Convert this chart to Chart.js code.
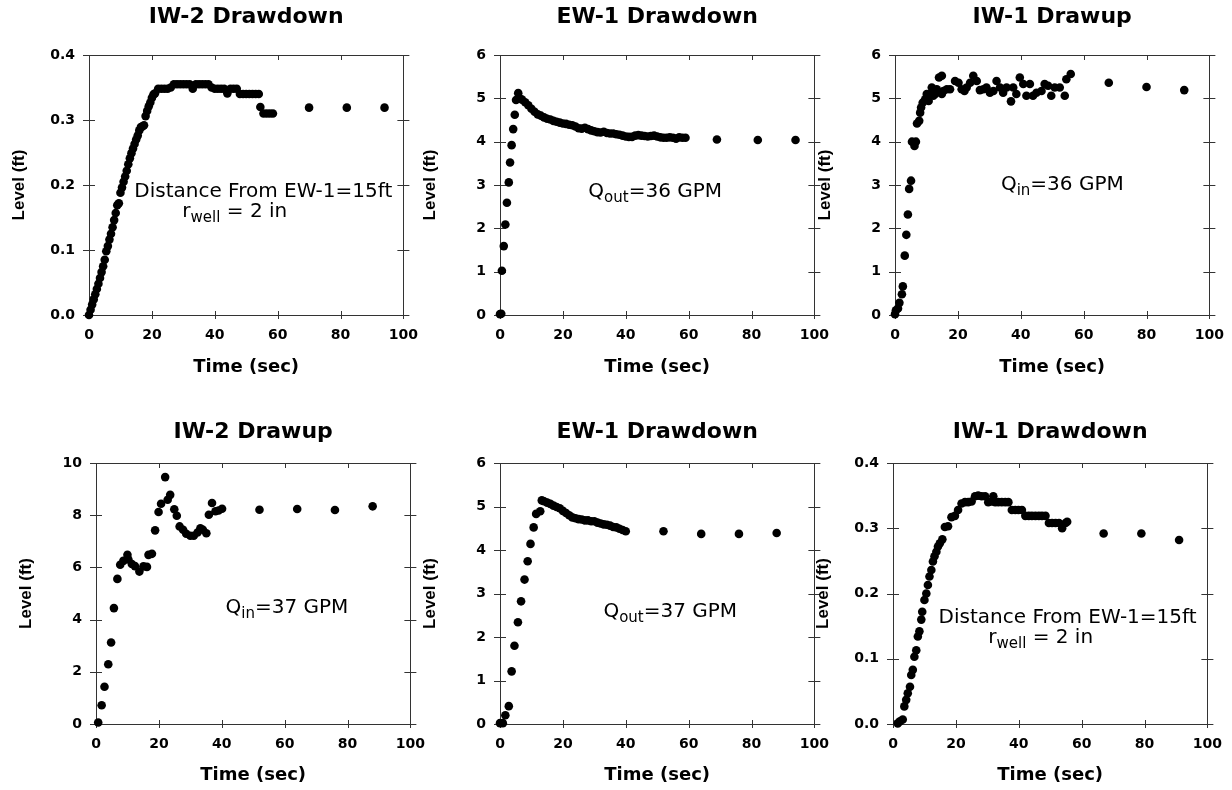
<!DOCTYPE html>
<html>
<head>
<meta charset="utf-8">
<script src="https://cdn.jsdelivr.net/npm/chart.js@4.4.1/dist/chart.umd.min.js"></script>
<style>
body { margin: 0; background: #fff; }
#lienzo { position: relative; width: 1232px; height: 790px; overflow: hidden; }
#lienzo canvas { position: absolute; }
</style>
</head>
<body>
<div id="lienzo"></div>
<script>
//Datos IW-2 Drawdown
let tiempo1 = [0,0.5,1,1.5,2,2.5,3,3.5,4,4.5,5,5.5,6,6.5,7,7.5,8,8.5,9,9.5,10,10.5,11,11.5,12,12.5,13,13.5,14,14.5,15,15.5,16,16.5,17,17.5,18,18.5,19,19.5,20,20.5,21,
  22,23,24,25,26,27,28,29,30,31,32,33,34,35,36,37,38,39,40,41,42,43,44,45,46,47,48,49,50,51,52,53,54,54.5,55.5,56.5,57.5,58.5,70,82,94];
let nivel1 = [0.000,0.008,0.016,0.024,0.032,0.040,0.048,0.057,0.066,0.075,0.085,0.098,0.106,0.116,0.125,0.135,0.146,0.157,0.169,0.172,0.188,0.196,0.205,0.213,0.222,0.232,0.241,0.249,0.256,0.263,0.270,0.276,0.284,0.289,0.290,0.292,0.306,0.314,0.321,0.327,0.334,0.339,0.341,
  0.348,0.348,0.348,0.348,0.350,0.355,0.355,0.355,0.355,0.355,0.355,0.348,0.355,0.355,0.355,0.355,0.355,0.350,0.348,0.348,0.348,0.348,0.341,0.348,0.348,0.348,0.340,0.340,0.340,0.340,0.340,0.340,0.340,0.320,0.310,0.310,0.310,0.310,0.319,0.319,0.319];

//Datos EW-1 Drawdown (36 GPM)
let tiempo2 = [0,0.4,0.6,1.2,1.7,2.2,2.8,3.2,3.7,4.2,4.7,5.1,5.8,6.2,
  7,8,9,10,11,12,13,14,15,16,17,18,19,20,21,22,23,24,25,26,27,28,29,30,31,32,33,34,35,36,37,38,39,40,41,42,43,44,45,46,47,48,49,50,51,52,53,54,55,56,57,58,59,69,82,94];
let nivel2 = [0.02,0.03,1.02,1.59,2.09,2.59,3.06,3.52,3.92,4.29,4.62,4.96,5.12,5.00,
  4.97,4.91,4.84,4.76,4.69,4.63,4.60,4.56,4.53,4.51,4.48,4.46,4.44,4.42,4.41,4.39,4.38,4.35,4.31,4.30,4.32,4.29,4.26,4.24,4.22,4.21,4.23,4.20,4.19,4.19,4.17,4.16,4.14,4.12,4.11,4.11,4.14,4.15,4.14,4.13,4.12,4.13,4.14,4.12,4.10,4.09,4.09,4.10,4.09,4.07,4.10,4.09,4.09,4.05,4.04,4.04];

//Datos IW-1 Drawup
let tiempo3 = [0,0.3,0.95,1.4,2.2,2.5,3.1,3.6,4.1,4.5,5.1,5.4,6.2,6.65,7.0,7.7,8.0,8.3,8.8,9.6,10.1,10.7,11.2,11.7,12.2,12.8,13.3,14.0,14.9,14.9,15.4,16.5,17.5,19.1,20.2,21.2,22.1,22.8,23.9,24.9,26.0,27.0,28.1,29.1,30.2,31.3,32.3,33.4,34.4,35.5,36.9,37.6,38.6,39.7,40.8,41.8,42.9,43.9,45.0,46.6,47.6,48.7,49.7,50.8,52.4,54.0,54.5,55.9,68,80,92];
let nivel3 = [0.02,0.11,0.15,0.28,0.48,0.66,1.37,1.85,2.32,2.91,3.10,4.00,3.90,4.00,4.42,4.48,4.67,4.79,4.90,4.98,5.10,4.94,5.10,5.25,5.06,5.10,5.21,5.48,5.52,5.10,5.17,5.21,5.21,5.40,5.36,5.21,5.17,5.25,5.36,5.52,5.40,5.19,5.21,5.25,5.13,5.17,5.40,5.25,5.13,5.25,4.93,5.25,5.10,5.48,5.33,5.06,5.33,5.06,5.13,5.17,5.33,5.29,5.06,5.25,5.25,5.06,5.44,5.56,5.36,5.26,5.19];

//Datos IW-2 Drawup
let tiempo4 = [0.7,1.8,2.7,3.9,4.8,5.7,6.8,7.7,8.7,10.0,10.3,11.4,12.4,13.8,15.1,16.2,16.7,17.8,18.8,19.9,20.7,22.0,22.8,23.6,24.9,25.7,26.6,27.7,28.7,30.0,31.1,32.3,33.2,34.0,35.1,35.9,36.9,38.0,39.0,40.1,52,64,76,88];
let nivel4 = [0.06,0.72,1.43,2.29,3.12,4.44,5.56,6.10,6.25,6.48,6.30,6.13,6.05,5.84,6.04,6.02,6.48,6.52,7.42,8.12,8.44,9.46,8.59,8.78,8.23,7.98,7.57,7.44,7.29,7.21,7.21,7.34,7.50,7.44,7.31,8.02,8.47,8.15,8.18,8.25,8.21,8.24,8.20,8.34];

//Datos EW-1 Drawdown (37 GPM)
let tiempo5 = [0,0.9,1.7,2.8,3.7,4.6,5.7,6.7,7.8,8.8,9.7,10.7,11.5,12.8,13.3,
  14,15,16,17,18,19,20,21,22,23,24,25,26,27,28,29,30,31,32,33,34,35,36,37,38,39,40,52,64,76,88];
let nivel5 = [0.02,0.02,0.20,0.41,1.21,1.80,2.34,2.82,3.32,3.74,4.14,4.52,4.83,4.89,5.14,
  5.12,5.09,5.06,5.02,4.99,4.96,4.90,4.85,4.80,4.75,4.73,4.71,4.70,4.68,4.68,4.66,4.66,4.63,4.61,4.59,4.58,4.56,4.53,4.52,4.49,4.46,4.43,4.43,4.37,4.37,4.39];

//Datos IW-1 Drawdown
let tiempo6 = [1.5,2.2,3.1,3.6,4.2,4.7,5.4,5.8,6.3,6.8,7.4,7.9,8.4,9.0,9.3,10.0,10.6,11.1,11.6,12.2,12.7,13.2,13.8,14.3,14.9,15.7,16.5,17.5,18.6,19.7,
  20.7,21.8,22.9,23.9,25.0,26.1,27.1,28.2,29.3,30.3,31.4,31.9,32.5,33.5,34.6,35.7,36.7,37.8,38.9,39.9,41.0,42.1,43.2,44.2,45.3,46.4,47.4,48.5,49.6,50.6,51.7,52.8,53.8,54.9,55.4,67,79,91];
let nivel6 = [0.001,0.004,0.007,0.027,0.037,0.047,0.057,0.075,0.083,0.103,0.113,0.134,0.142,0.160,0.172,0.190,0.200,0.213,0.226,0.236,0.249,0.257,0.264,0.272,0.277,0.283,0.302,0.303,0.317,0.319,
  0.328,0.338,0.340,0.340,0.341,0.349,0.350,0.349,0.349,0.340,0.341,0.349,0.340,0.340,0.340,0.340,0.340,0.328,0.328,0.328,0.328,0.319,0.319,0.319,0.319,0.319,0.319,0.319,0.308,0.308,0.308,0.308,0.300,0.308,0.310,0.292,0.292,0.282];

//Titulos y ejes
let titulos = ["IW-2 Drawdown", "EW-1 Drawdown", "IW-1 Drawup", "IW-2 Drawup", "EW-1 Drawdown", "IW-1 Drawdown"];
let ticksX = [0, 20, 40, 60, 80, 100];
let ticksPies = [0, 0.1, 0.2, 0.3, 0.4];
let ticksSeis = [0, 1, 2, 3, 4, 5, 6];
let ticksDiez = [0, 2, 4, 6, 8, 10];
let tituloX = "Time (sec)";
let tituloY = "Level (ft)";

let tiempos = [tiempo1, tiempo2, tiempo3, tiempo4, tiempo5, tiempo6];
let niveles = [nivel1, nivel2, nivel3, nivel4, nivel5, nivel6];
let ticksY = [ticksPies, ticksSeis, ticksSeis, ticksDiez, ticksSeis, ticksPies];

//Textos dentro de cada grafica (x, y en unidades de los ejes)
let distancia = [{ texto: "Distance From EW-1=15ft" }];
let radio = [{ texto: "r" }, { texto: "well", sub: true }, { texto: " = 2 in" }];
let anotaciones = [
  [{ x: 14.4, y: 0.1815, partes: distancia }, { x: 29.7, y: 0.151, partes: radio }],
  [{ x: 28.1, y: 2.72, partes: [{ texto: "Q" }, { texto: "out", sub: true }, { texto: "=36 GPM" }] }],
  [{ x: 33.7, y: 2.88, partes: [{ texto: "Q" }, { texto: "in", sub: true }, { texto: "=36 GPM" }] }],
  [{ x: 41.2, y: 4.27, partes: [{ texto: "Q" }, { texto: "in", sub: true }, { texto: "=37 GPM" }] }],
  [{ x: 32.9, y: 2.47, partes: [{ texto: "Q" }, { texto: "out", sub: true }, { texto: "=37 GPM" }] }],
  [{ x: 14.5, y: 0.155, partes: distancia }, { x: 30.3, y: 0.124, partes: radio }]
];

//Posicion de cada lienzo
let posiciones = [
  { left: 0, top: 0 }, { left: 411, top: 0 }, { left: 806, top: 0 },
  { left: 7, top: 395 }, { left: 411, top: 395 }, { left: 804, top: 395 }
];

const fuente = "'DejaVu Sans', sans-serif";

//Marco con marcas en los cuatro lados
const marco = {
  id: 'marco',
  beforeDatasetsDraw(chart) {
    const { ctx, chartArea: a, scales } = chart;
    ctx.save();
    ctx.strokeStyle = '#333';
    ctx.lineWidth = 1;
    ctx.strokeRect(Math.round(a.left) + 0.5, Math.round(a.top) + 0.5, Math.round(a.right - a.left), Math.round(a.bottom - a.top));
    ctx.beginPath();
    scales.x.ticks.forEach(function (t) {
      let px = Math.round(scales.x.getPixelForValue(t.value)) + 0.5;
      ctx.moveTo(px, a.bottom - 4);
      ctx.lineTo(px, a.bottom + 4);
      ctx.moveTo(px, a.top);
      ctx.lineTo(px, a.top + 5);
    });
    scales.y.ticks.forEach(function (t) {
      let py = Math.round(scales.y.getPixelForValue(t.value)) + 0.5;
      ctx.moveTo(a.left - 6, py);
      ctx.lineTo(a.left + 6, py);
      ctx.moveTo(a.right - 6, py);
      ctx.lineTo(a.right + 6, py);
    });
    ctx.stroke();
    ctx.restore();
  }
};

//Textos con subindice
const notas = {
  id: 'notas',
  afterDatasetsDraw(chart, args, opts) {
    const { ctx, scales } = chart;
    anotaciones[opts.indice].forEach(function (n) {
      let x = scales.x.getPixelForValue(n.x);
      let y = scales.y.getPixelForValue(n.y);
      ctx.save();
      ctx.fillStyle = '#000';
      ctx.textAlign = 'left';
      ctx.textBaseline = 'alphabetic';
      n.partes.forEach(function (p) {
        ctx.font = (p.sub ? '15px ' : '20px ') + fuente;
        ctx.fillText(p.texto, x, y + (p.sub ? 5 : 0));
        x += ctx.measureText(p.texto).width;
      });
      ctx.restore();
    });
  }
};

function crearGrafica(i) {
  let fila = i < 3 ? 0 : 1;
  let canvas = document.createElement('canvas');
  canvas.width = 430;
  canvas.height = 395;
  canvas.style.left = posiciones[i].left + 'px';
  canvas.style.top = posiciones[i].top + 'px';
  document.getElementById('lienzo').appendChild(canvas);

  let puntos = tiempos[i].map(function (t, k) { return { x: t, y: niveles[i][k] }; });
  let yt = ticksY[i];
  let decimales = yt[1] < 1 ? 1 : 0;

  new Chart(canvas, {
    type: 'scatter',
    data: {
      datasets: [{
        data: puntos,
        backgroundColor: '#000',
        borderWidth: 0,
        pointRadius: 4.3,
        pointHoverRadius: 4.3,
        clip: false
      }]
    },
    options: {
      responsive: false,
      animation: false,
      events: [],
      layout: { padding: { left: 0, right: 13, top: 0, bottom: 0 } },
      plugins: {
        legend: { display: false },
        tooltip: { enabled: false },
        title: {
          display: true,
          text: titulos[i],
          fullSize: false,
          color: '#000',
          font: { family: fuente, size: 22, weight: 'bold' },
          padding: fila == 0 ? { top: 4, bottom: 24.6 } : { top: 24, bottom: 17.6 }
        },
        notas: { indice: i }
      },
      scales: {
        x: {
          type: 'linear',
          min: ticksX[0],
          max: ticksX[ticksX.length - 1],
          ticks: {
            stepSize: ticksX[1] - ticksX[0],
            color: '#000',
            padding: 12,
            maxRotation: 0,
            font: { family: fuente, size: 14, weight: 'bold' }
          },
          grid: { display: false, drawTicks: false },
          border: { display: false },
          title: {
            display: true,
            text: tituloX,
            color: '#000',
            font: { family: fuente, size: 18, weight: 'bold' },
            padding: { top: 0, bottom: fila == 0 ? 16.7 : 4.2 }
          },
          afterFit: function (s) { s.height = fila == 0 ? 80 : 66; }
        },
        y: {
          type: 'linear',
          min: yt[0],
          max: yt[yt.length - 1],
          ticks: {
            stepSize: yt[1] - yt[0],
            color: '#000',
            padding: 14,
            font: { family: fuente, size: 14, weight: 'bold' },
            callback: function (v) { return v.toFixed(decimales); }
          },
          grid: { display: false, drawTicks: false },
          border: { display: false },
          title: {
            display: true,
            text: tituloY,
            color: '#000',
            font: { family: "'Liberation Sans', Arial, sans-serif", size: 17, weight: 'bold' },
            padding: { top: 9, bottom: 0 }
          },
          afterFit: function (s) { s.width = 89; }
        }
      }
    },
    plugins: [marco, notas]
  });
}

for (let i = 0; i < 6; i++) {
  crearGrafica(i);
}
</script>
</body>
</html>
